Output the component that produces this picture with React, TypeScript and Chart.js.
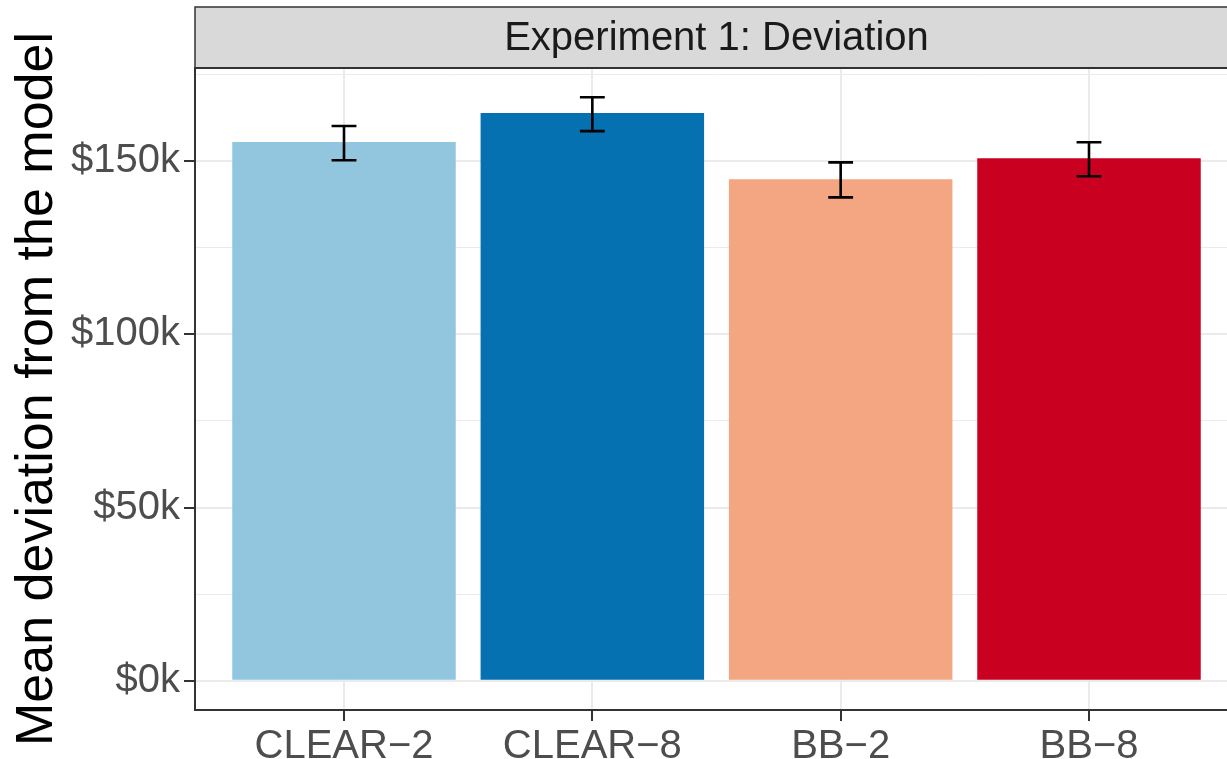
import React, { useEffect, useRef } from "react";
import { Chart, registerables } from "chart.js";

Chart.register(...registerables);

const categories = ["CLEAR−2", "CLEAR−8", "BB−2", "BB−8"];
const means = [155.5, 163.8, 144.7, 150.8];
const errLow = [150.2, 158.6, 139.5, 145.6];
const errHigh = [160.1, 168.4, 149.6, 155.4];
const barColors = ["#92C5DE", "#0571B0", "#F4A582", "#CA0020"];
const yTicks = [0, 25, 50, 75, 100, 125, 150, 175];
const yMajor = [0, 50, 100, 150];
const stripLabel = "Experiment 1: Deviation";
const yTitle = "Mean deviation from the model";

const FONT = "'Liberation Sans', Arial, Helvetica, sans-serif";

export default function App() {
  const ref = useRef<HTMLCanvasElement | null>(null);

  useEffect(() => {
    const canvas = ref.current;
    if (!canvas) return;
    const top = Math.max(...errHigh);
    const yMin = -0.05 * top;
    const yMax = top * 1.05;

    const panelPlugin = {
      id: "panel",
      afterDatasetsDraw(chart: any) {
        const ctx = chart.ctx;
        const xs = chart.scales.x;
        const ys = chart.scales.y;
        const area = chart.chartArea;
        ctx.save();
        // error bars
        ctx.strokeStyle = "#000000";
        ctx.lineWidth = 2.6;
        categories.forEach((_, i) => {
          const x = xs.getPixelForValue(i + 1);
          const hw = xs.getPixelForValue(i + 1.05) - x;
          const y1 = ys.getPixelForValue(errHigh[i]);
          const y2 = ys.getPixelForValue(errLow[i]);
          ctx.beginPath();
          ctx.moveTo(x, y1);
          ctx.lineTo(x, y2);
          ctx.moveTo(x - hw, y1);
          ctx.lineTo(x + hw, y1);
          ctx.moveTo(x - hw, y2);
          ctx.lineTo(x + hw, y2);
          ctx.stroke();
        });
        // panel border
        ctx.strokeStyle = "#333333";
        ctx.lineWidth = 2;
        ctx.strokeRect(area.left, area.top, area.right - area.left, area.bottom - area.top);
        // strip
        const stripTop = 7;
        ctx.fillStyle = "#D9D9D9";
        ctx.fillRect(area.left, stripTop, area.right - area.left, area.top - stripTop);
        ctx.lineWidth = 1.5;
        ctx.strokeRect(area.left, stripTop, area.right - area.left, area.top - stripTop);
        ctx.lineWidth = 2;
        ctx.beginPath();
        ctx.moveTo(area.left, area.top);
        ctx.lineTo(area.right, area.top);
        ctx.stroke();
        ctx.fillStyle = "#1A1A1A";
        ctx.font = `40px ${FONT}`;
        ctx.textAlign = "center";
        ctx.textBaseline = "middle";
        ctx.fillText(stripLabel, (area.left + area.right) / 2, (stripTop + area.top) / 2 + 1);
        ctx.restore();
      },
    };

    const chart = new Chart(canvas, {
      type: "bar",
      data: {
        datasets: [
          {
            data: categories.map((c, i) => ({ x: i + 1, y: means[i] })) as any,
            backgroundColor: barColors,
            borderWidth: 0,
            barPercentage: 0.9,
            categoryPercentage: 1,
          },
        ],
      },
      options: {
        animation: false,
        responsive: false,
        devicePixelRatio: 1,
        layout: { padding: { top: 68, right: 2, left: 0, bottom: 0 } },
        plugins: { legend: { display: false }, tooltip: { enabled: false } },
        scales: {
          x: {
            type: "linear",
            min: 0.4,
            max: 4.6,
            offset: false,
            afterBuildTicks(scale: any) {
              scale.ticks = categories.map((_, i) => ({ value: i + 1 }));
            },
            afterFit(scale: any) {
              scale.height = 49;
            },
            ticks: {
              callback: (v: any) => categories[Math.round(Number(v)) - 1] ?? "",
              font: { family: FONT, size: 40 },
              color: "#4D4D4D",
              padding: 2,
              maxRotation: 0,
              autoSkip: false,
            },
            grid: {
              offset: false,
              color: "#EBEBEB",
              lineWidth: 2,
              tickColor: "#333333",
              tickWidth: 2,
              tickLength: 11,
            },
            border: { display: false },
          },
          y: {
            type: "linear",
            min: yMin,
            max: yMax,
            afterBuildTicks(scale: any) {
              scale.ticks = yTicks.map((v) => ({ value: v }));
            },
            afterFit(scale: any) {
              scale.width = 195;
            },
            ticks: {
              callback: (v: any) => (yMajor.includes(Number(v)) ? `$${v}k` : ""),
              font: { family: FONT, size: 40 },
              color: "#4D4D4D",
              padding: 4,
              autoSkip: false,
            },
            grid: {
              color: "#EBEBEB",
              lineWidth: (c: any) => (yMajor.includes(c.tick?.value) ? 2 : 1),
              tickColor: (c: any) => (yMajor.includes(c.tick?.value) ? "#333333" : "rgba(0,0,0,0)"),
              tickWidth: 2,
              tickLength: 11,
            },
            border: { display: false },
            title: {
              display: true,
              text: yTitle,
              color: "#000000",
              font: { family: FONT, size: 52 },
              padding: { top: 6, bottom: 0 },
            },
          },
        },
      },
      plugins: [panelPlugin],
    });
    return () => chart.destroy();
  }, []);

  return (
    <div
      style={{
        position: "fixed",
        left: 0,
        top: 0,
        width: 1227,
        height: 759,
        overflow: "hidden",
        background: "#ffffff",
      }}
    >
      <canvas ref={ref} width={1240} height={759} style={{ display: "block" }} />
    </div>
  );
}
